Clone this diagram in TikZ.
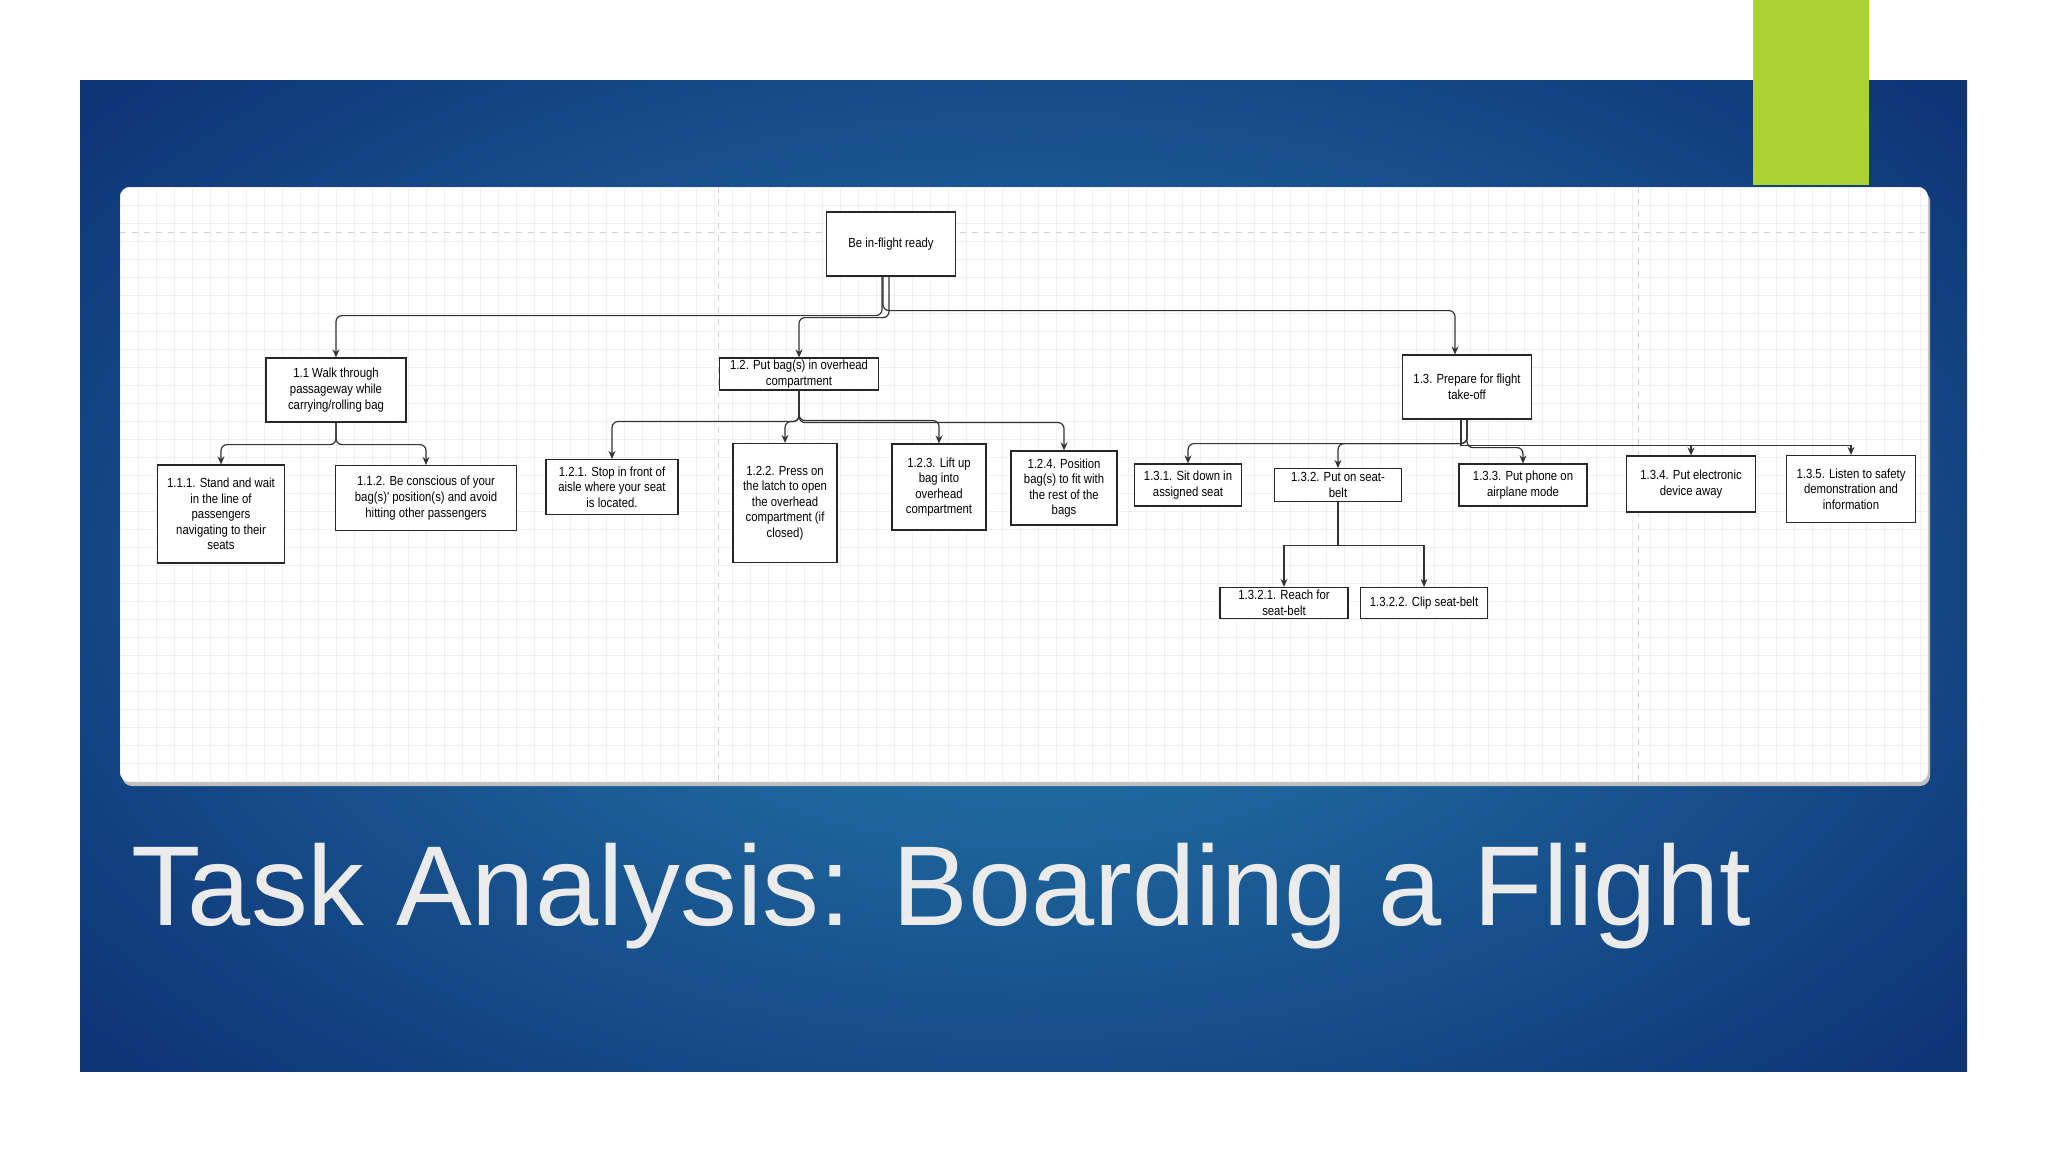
\documentclass[tikz,border=0pt]{standalone}
\usepackage{fontspec}
\setmainfont{Liberation Sans}
\newfontfamily\dfont[FakeStretch=0.86]{Liberation Sans}
\usetikzlibrary{arrows.meta}
\definecolor{navy}{RGB}{14,52,118}
\definecolor{teal}{RGB}{38,125,175}
\definecolor{lime}{RGB}{170,210,50}
\tikzset{
 box/.style={draw=black!85,line width=0.6pt,fill=white,align=center,font=\dfont\fontsize{6.6}{7.8}\selectfont,inner sep=1pt},
 arr/.style={draw=black!80,line width=0.6pt,rounded corners=3pt,-{Stealth[length=4pt,width=3.5pt]}}
}
\begin{document}
\begin{tikzpicture}[x=0.5pt,y=-0.5pt]
\useasboundingbox (0,0) rectangle (2048,1152);
\fill[white] (0,0) rectangle (2048,1152);
\begin{scope}
\clip (80,80) rectangle (1967,1071);
\shade[inner color=teal,outer color=navy] (-200,-150) rectangle (2250,1300);
\end{scope}
\fill[lime] (1753,0) rectangle (1869,185);
\fill[black!25,rounded corners=5pt] (122,191) rectangle (1930,786);
\fill[white,rounded corners=5pt] (120,187) rectangle (1928,782);
\begin{scope}
\clip[rounded corners=5pt] (120,187) rectangle (1928,782);
\foreach \i in {0,...,101} {\draw[black!6,line width=0.4pt] (120+18*\i,187) -- (120+18*\i,782);}
\foreach \j in {0,...,33} {\draw[black!6,line width=0.4pt] (120,187+18*\j) -- (1928,187+18*\j);}
\draw[black!18,dashed,line width=0.4pt] (718,187) -- (718,782) (1638,187) -- (1638,782) (120,232) -- (1928,232);
\end{scope}
\node[text=black!8,font=\fontsize{56.8}{60}\selectfont,anchor=base west] (title) at (124,925) {Task Analysis: Boarding a Flight};
% nodes
\node[box,minimum width=64.5pt,minimum height=32pt] (r) at (891,244) {Be in-flight ready};
\node[box,minimum width=70pt,minimum height=32pt] (a) at (336,390) {1.1 Walk through\\passageway while\\carrying/rolling bag};
\node[box,minimum width=79.5pt,minimum height=15.5pt] (b) at (799,374) {1.2. Put bag(s) in overhead\\compartment};
\node[box,minimum width=64.5pt,minimum height=32pt] (c) at (1467,387) {1.3. Prepare for flight\\take-off};
\node[box,minimum width=63.5pt,minimum height=49pt] (a1) at (221,514) {1.1.1. Stand and wait\\in the line of\\passengers\\navigating to their\\seats};
\node[box,minimum width=90.5pt,minimum height=32.5pt] (a2) at (426,498) {1.1.2. Be conscious of your\\bag(s)' position(s) and avoid\\hitting other passengers};
\node[box,minimum width=66pt,minimum height=27.5pt] (b1) at (612,487) {1.2.1. Stop in front of\\aisle where your seat\\is located.};
\node[box,minimum width=52pt,minimum height=59.5pt] (b2) at (785,503) {1.2.2. Press on\\the latch to open\\the overhead\\compartment (if\\closed)};
\node[box,minimum width=47pt,minimum height=43pt] (b3) at (939,487) {1.2.3. Lift up\\bag into\\overhead\\compartment};
\node[box,minimum width=53pt,minimum height=37pt] (b4) at (1064,488) {1.2.4. Position\\bag(s) to fit with\\the rest of the\\bags};
\node[box,minimum width=53.5pt,minimum height=21pt] (c1) at (1188,485) {1.3.1. Sit down in\\assigned seat};
\node[box,minimum width=63.5pt,minimum height=16.5pt] (c2) at (1338,485) {1.3.2. Put on seat-\\belt};
\node[box,minimum width=64pt,minimum height=21pt] (c3) at (1523,485) {1.3.3. Put phone on\\airplane mode};
\node[box,minimum width=64.5pt,minimum height=28pt] (c4) at (1691,484) {1.3.4. Put electronic\\device away};
\node[box,minimum width=64.5pt,minimum height=33.5pt] (c5) at (1851,489) {1.3.5. Listen to safety\\demonstration and\\information};
\node[box,minimum width=64pt,minimum height=15.5pt] (d1) at (1284,603) {1.3.2.1. Reach for\\seat-belt};
\node[box,minimum width=63.5pt,minimum height=15.5pt] (d2) at (1424,603) {1.3.2.2. Clip seat-belt};
% connectors
\draw[arr] ([xshift=-4.5pt]r.south) -- ++(0,39) -| (a.north);
\draw[arr] ([xshift=-1pt]r.south) -- ++(0,41) -| (b.north);
\draw[arr] ([xshift=-4pt]r.south) -- ++(0,34) -| ([xshift=-6pt]c.north);
\draw[arr] (a.south) -- ++(0,22) -| (a1.north);
\draw[arr] (a.south) -- ++(0,22) -| (a2.north);
\draw[arr] (b.south) -- ++(0,31) -| (b1.north);
\draw[arr] (b.south) -- ++(0,31) -| (b2.north);
\draw[arr] (b.south) -- ++(0,30) -| (b3.north);
\draw[arr] (b.south) -- ++(0,32) -| (b4.north);
\draw[arr] (c.south) -- ++(0,24) -| (c1.north);
\draw[arr] (c.south) -- ++(0,24) -| (c2.north);
\draw[arr] (c.south) -- ++(0,28) -| (c3.north);
\draw[arr,rounded corners=0pt] ([xshift=-3pt]c.south) -- ++(0,26) -| (c4.north);
\draw[arr,rounded corners=0pt] ([xshift=-3pt]c.south) -- ++(0,26) -| (c5.north);
\draw[arr,rounded corners=0pt] (c2.south) -- ++(0,43) -| (d1.north);
\draw[arr,rounded corners=0pt] (c2.south) -- ++(0,43) -| (d2.north);
\end{tikzpicture}
\end{document}
